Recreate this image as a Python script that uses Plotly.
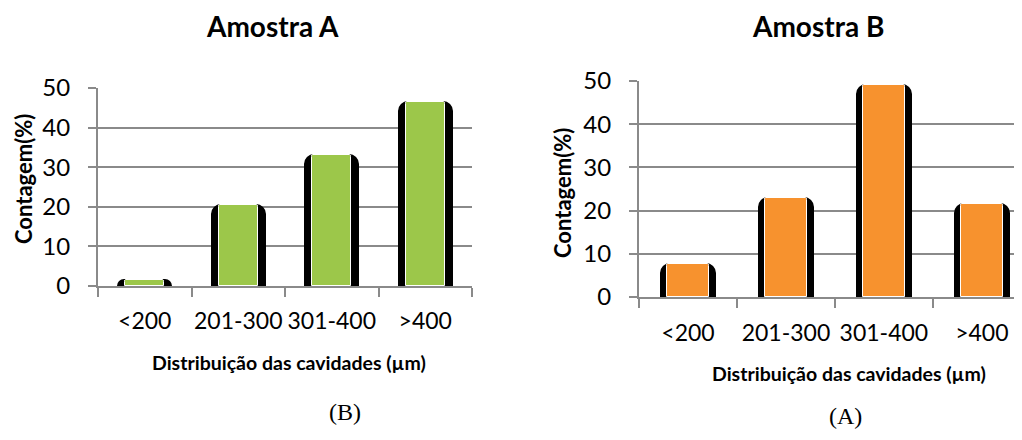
import plotly.graph_objects as go

categories = ["<200", "201-300", "301-400", ">400"]
amostra_a = [1.5, 20.5, 33, 46.5]
amostra_b = [7.7, 23, 49, 21.5]
y_ticks = [0, 10, 20, 30, 40, 50]

GREEN = "#9CC74A"
ORANGE = "#F7922E"
GRID = "#8A8A8A"
FONT = "Lato"

fig = go.Figure()

# Sample A (left)
fig.add_trace(go.Bar(x=categories, y=amostra_a, width=0.57, marker=dict(color="black", cornerradius=9,
              line=dict(color="black", width=2)), xaxis="x", yaxis="y", hoverinfo="skip", showlegend=False))
fig.add_trace(go.Bar(x=categories, y=amostra_a, width=0.42, marker=dict(color=GREEN, cornerradius=2,
              line=dict(color="white", width=1)), xaxis="x", yaxis="y", showlegend=False))
# Sample B (right)
fig.add_trace(go.Bar(x=categories, y=amostra_b, width=0.55, marker=dict(color="black", cornerradius=9,
              line=dict(color="black", width=2)), xaxis="x2", yaxis="y2", hoverinfo="skip", showlegend=False))
fig.add_trace(go.Bar(x=categories, y=amostra_b, width=0.43, marker=dict(color=ORANGE, cornerradius=2,
              line=dict(color="white", width=1)), xaxis="x2", yaxis="y2", showlegend=False))

W, H = 1022, 440
OFF = 8  # page body margin offset

def px_x(v):
    return (v - OFF) / W

def px_y(v):
    return 1 - (v - OFF) / H

xcommon = dict(type="category", showgrid=False, showline=True, linecolor=GRID, linewidth=2,
               ticks="outside", tickson="boundaries", ticklen=9, tickwidth=2, tickcolor=GRID,
               tickangle=0, tickfont=dict(family=FONT, size=23, color="black"), fixedrange=True,
               automargin=False)
ycommon = dict(range=[0, 50], tickvals=y_ticks, showgrid=True, gridcolor=GRID, gridwidth=2,
               showline=True, linecolor=GRID, linewidth=2, ticks="outside", ticklen=8, tickwidth=2,
               tickcolor=GRID, tickfont=dict(family=FONT, size=24, color="black"), zeroline=False,
               ticklabelstandoff=13, fixedrange=True, automargin=False)

fig.update_layout(
    width=W, height=H, margin=dict(l=0, r=0, t=0, b=0, pad=0, autoexpand=False),
    paper_bgcolor="white", plot_bgcolor="white",
    barmode="overlay", bargap=0,
    font=dict(family=FONT, color="black"),
    xaxis=dict(xcommon, domain=[px_x(98), px_x(472)], range=[-0.5, 3.5], anchor="y", ticklabelstandoff=13),
    yaxis=dict(ycommon, domain=[px_y(286), px_y(88)], anchor="x"),
    xaxis2=dict(xcommon, domain=[px_x(639), px_x(1022)], range=[-0.5, 3.41], anchor="y2", ticklabelstandoff=14),
    yaxis2=dict(ycommon, domain=[px_y(297), px_y(81)], anchor="x2"),
)

annots = [
    dict(text="<b>Amostra A</b>", x=px_x(272), y=px_y(26), size=28, family=FONT),
    dict(text="<b>Amostra B</b>", x=px_x(818), y=px_y(26), size=28, family=FONT),
    dict(text="<b>Distribuição das cavidades (µm)</b>", x=px_x(289), y=px_y(362), size=19.5, family=FONT),
    dict(text="<b>Distribuição das cavidades (µm)</b>", x=px_x(849), y=px_y(373), size=19.5, family=FONT),
    dict(text="(B)", x=px_x(345), y=px_y(412), size=24, family="Liberation Serif"),
    dict(text="(A)", x=px_x(845), y=px_y(416), size=24, family="Liberation Serif"),
]
for a in annots:
    fig.add_annotation(text=a["text"], x=a["x"], y=a["y"], xref="paper", yref="paper",
                       showarrow=False, xanchor="center", yanchor="middle",
                       font=dict(family=a["family"], size=a["size"], color="black"))

fig.add_annotation(text="<b>Contagem(%)</b>", x=px_x(23), y=px_y(179), xref="paper", yref="paper",
                   showarrow=False, textangle=-90, xanchor="center", yanchor="middle",
                   font=dict(family=FONT, size=22, color="black"))
fig.add_annotation(text="<b>Contagem(%)</b>", x=px_x(563), y=px_y(193), xref="paper", yref="paper",
                   showarrow=False, textangle=-90, xanchor="center", yanchor="middle",
                   font=dict(family=FONT, size=22, color="black"))

fig.write_html("out.html")
